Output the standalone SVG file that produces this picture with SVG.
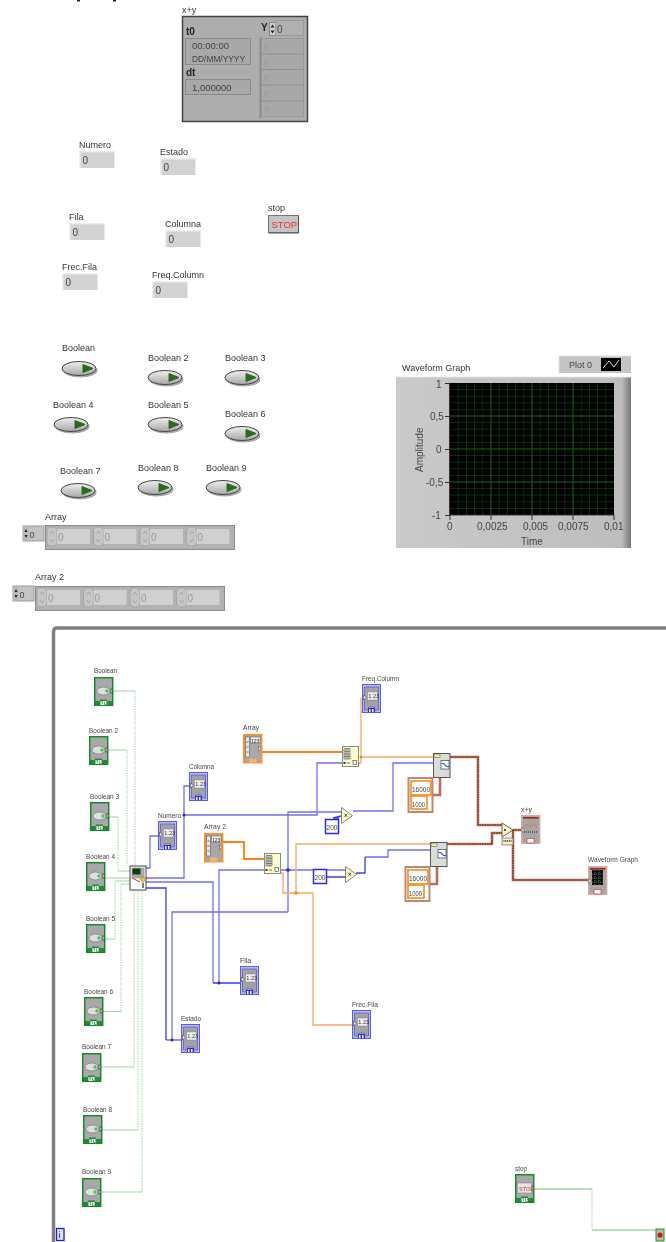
<svg xmlns="http://www.w3.org/2000/svg" xmlns:xlink="http://www.w3.org/1999/xlink" width="666" height="1242" viewBox="0 0 666 1242">
<style>
text{font-family:"Liberation Sans",Arial,sans-serif;fill:#333}
.l{font-size:9px}
.b{font-size:8px;fill:#444}
.n{font-size:9px;fill:#444}
.g{font-size:9px;fill:#999}
.t{font-size:10px;font-weight:bold;fill:#222}
.w{fill:none;stroke-linejoin:miter}
.gs{stroke:#a2d6a6;stroke-width:1.100}
.gd{stroke:#a8dcae;stroke-width:1.100;stroke-dasharray:1.500 1}
.bl{stroke:#7070f2;stroke-width:1.300}
.bd{stroke:#3c3ce8;stroke-width:1.300}
.ol{stroke:#f6aa5c;stroke-width:1.300}
.ot{stroke:#fb8414;stroke-width:1.900}
.br{stroke:#b5705a;stroke-width:2.600}
.bk{stroke:#7c1c10;stroke-width:1.100;stroke-dasharray:1.500 1}
.dotb{fill:#2222e0}.doto{fill:#f98a20}
.cst{fill:#fff;stroke:#fb8a1c;stroke-width:1.600}
.cbl{fill:#fff;stroke:#2a2ae6;stroke-width:1.500}
</style>
<defs>
<filter id="soft" x="0" y="0" width="100%" height="100%"><feGaussianBlur stdDeviation="0.35"/></filter>
<linearGradient id="ledfill" x1="0" y1="0" x2="0" y2="1"><stop offset="0" stop-color="#efefef"/><stop offset="1" stop-color="#a8a8a8"/></linearGradient>
<linearGradient id="pl" x1="0" y1="0" x2="1" y2="0"><stop offset="0" stop-color="#cacaca"/><stop offset=".96" stop-color="#bdbdbd"/><stop offset="1" stop-color="#777"/></linearGradient>
<symbol id="led" width="40" height="20" viewBox="0 0 40 20" overflow="visible">
<ellipse cx="18.500" cy="9.500" rx="17" ry="7" fill="#a8a8a8"/>
<ellipse cx="17" cy="7.500" rx="17" ry="7" fill="url(#ledfill)" stroke="#444" stroke-width="1"/>
<path d="M21 3.500L31 7.500L21 11.500Z" fill="#2c6b1a" stroke="#2c6b1a" stroke-linejoin="round"/>
</symbol>
<symbol id="num" width="38" height="18" viewBox="0 0 38 18" overflow="visible">
<path d="M0 18V0H37L34.500 2.500H2V16Z" fill="#eeeeee"/>
<rect x="1.500" y="1.500" width="34" height="15.500" fill="#d2d2d2"/>
<text x="3.500" y="13" class="n" style="font-size:10px">0</text>
</symbol>
<symbol id="cell" width="46" height="20" viewBox="0 0 46 20" overflow="visible">
<rect x="0" y="0" width="10" height="19" rx="4" fill="#c6c6c6" stroke="#a0a0a0" stroke-width=".8"/>
<path d="M3 7L5 4L7 7M3 12L5 15L7 12" fill="none" stroke="#9a9a9a" stroke-width=".7"/>
<rect x="10" y="2" width="33" height="15" fill="#d0d0d0"/>
<text x="11" y="13.500" class="g" style="font-size:10px">0</text>
</symbol>
<symbol id="tb" width="20" height="30" viewBox="0 0 20 30" overflow="visible">
<rect x=".7" y=".7" width="18" height="27.600" fill="#a8a8a8" stroke="#15882a" stroke-width="1.500"/>
<ellipse cx="9.500" cy="14" rx="6.500" ry="4" fill="#dedede" stroke="#777" stroke-width=".7"/>
<circle cx="13" cy="14" r="1.800" fill="#3bd04a"/>
<path d="M17 11.500L19 14L17 16.500Z" fill="#fff" stroke="#222" stroke-width=".6"/>
<path d="M.7 24H6V22.500H13V24H18.500V28.500H.7Z" fill="#15882a" opacity=".9"/>
<rect x="6.500" y="24" width="6" height="4" fill="#fff"/><path d="M7.500 24.500H9M8.300 24.500V27.500M10.500 24.500V27.500H12" stroke="#15882a" stroke-width=".7" fill="none"/>
</symbol>
<symbol id="ti" width="20" height="30" viewBox="0 0 20 30" overflow="visible">
<rect x=".5" y=".5" width="18" height="28" fill="#b6b6f4" stroke="#5a5af0" stroke-width="1"/>
<path d="M2.500 3H16.500V26H12.500V23H6.500V26H2.500Z" fill="#a2a2a2" stroke="#3232b0" stroke-width=".5"/>
<rect x="5.500" y="8" width="10" height="8" fill="#eeeeee" stroke="#777" stroke-width=".4"/>
<text x="6.300" y="14" style="font-size:5.500px;fill:#333">1.23</text>
<path d="M1.500 11L4 13.500L1.500 16Z" fill="#fff" stroke="#333" stroke-width=".5"/>
<rect x="6" y="24" width="7" height="4" fill="#2a2ae6"/><rect x="7" y="25" width="1.500" height="3" fill="#fff"/><rect x="10" y="25" width="1.500" height="3" fill="#fff"/>
</symbol>
<symbol id="tg" width="20" height="30" viewBox="0 0 20 30" overflow="visible">
<rect x=".7" y=".7" width="18" height="27.600" fill="#a6a6a6" stroke="#dfa898" stroke-width="1.400"/>
<rect x="2" y="2" width="15.500" height="1.600" fill="#8f2a1e"/>
<rect x="6" y="23.500" width="7" height="4.500" fill="#fff" stroke="#c84030" stroke-width=".7"/>
<path d="M1 12.500L3.500 15L1 17.500Z" fill="#fff" stroke="#333" stroke-width=".5"/>
</symbol>
<symbol id="ta" width="20" height="30" viewBox="0 0 20 30" overflow="visible">
<rect x=".8" y=".8" width="17.800" height="27.800" fill="#a8a8a8" stroke="#fb8f2c" stroke-width="1.700"/>
<rect x="2.500" y="3" width="4" height="20" fill="#e8e8e8" stroke="#444" stroke-width=".5"/>
<path d="M3.500 8H5.500M3.500 13H5.500M3.500 18H5.500" stroke="#444" stroke-width=".8"/>
<rect x="7.500" y="3" width="9.500" height="6.500" fill="#eeeeee" stroke="#444" stroke-width=".4"/>
<text x="8" y="8.500" style="font-size:5px;fill:#222">123</text>
<path d="M15.500 12L17.800 14.500L15.500 17Z" fill="#fff" stroke="#333" stroke-width=".5"/>
<rect x="6" y="24.500" width="7.500" height="4" fill="#f6b070"/>
</symbol>
<symbol id="mul" width="12" height="17" viewBox="0 0 12 17" overflow="visible">
<path d="M.5 .5L11.500 8.500L.5 16.500Z" fill="#f8f6c4" stroke="#777" stroke-width=".9"/>
<path d="M3.500 6.800L6 9.800M6 6.800L3.500 9.800" stroke="#222" stroke-width=".8"/>
</symbol>
<symbol id="ixa" width="17" height="21" viewBox="0 0 17 21" overflow="visible">
<rect x=".5" y=".5" width="16" height="20" fill="#fdfbd0" stroke="#8c8c80" stroke-width="1"/>
<path d="M2 2.500H8V13H2ZM2 5.200H8M2 8H8M2 10.500H8M4 2.500V13M6 2.500V13" fill="#e8e8e0" stroke="#333" stroke-width=".5"/>
<rect x="1.500" y="16" width="2" height="2" fill="#333"/><rect x="11" y="14.500" width="3.500" height="4" fill="#fff" stroke="#333" stroke-width=".6"/><path d="M5 17H8" stroke="#333" stroke-width=".7"/>
</symbol>
<symbol id="rsv" width="18" height="25" viewBox="0 0 18 25" overflow="visible">
<rect x=".5" y=".5" width="16.500" height="24" fill="#dcdcdc" stroke="#555" stroke-width="1"/>
<rect x="1" y="1" width="6" height="3.500" fill="#e8e8a0" stroke="#555" stroke-width=".5"/>
<rect x="8" y="7.500" width="8" height="8.500" fill="#fff" stroke="#444" stroke-width=".7"/>
<path d="M8.500 10.500Q11 10 12 12T16 13.500" fill="none" stroke="#2a5ad0" stroke-width="1.200"/>
</symbol>
</defs>
<g filter="url(#soft)">
<rect width="666" height="1242" fill="#fff"/>
<path d="M77 0h3v1.500h-3zM113 0h3v1.500h-3z" fill="#222"/>

<g id="panel-xy">
<text x="182" y="13" class="l">x+y</text>
<rect x="182.500" y="16.500" width="125" height="105" fill="#adadad" stroke="#444" stroke-width="1.500"/>
<text x="186" y="35" class="t">t0</text>
<rect x="185.500" y="38.500" width="65" height="26" fill="#a8a8a8" stroke="#8a8a8a"/>
<text x="192" y="49" class="n" style="font-size:9.500px">00:00:00</text>
<text x="192" y="61.500" class="n" style="font-size:9.500px" textLength="53" lengthAdjust="spacingAndGlyphs">DD/MM/YYYY</text>
<text x="186" y="76" class="t">dt</text>
<rect x="185.500" y="79.500" width="65" height="15" fill="#a8a8a8" stroke="#8a8a8a"/>
<text x="192" y="91" class="n" style="font-size:9.500px">1,000000</text>
<text x="261" y="31" class="t">Y</text>
<rect x="269.500" y="22.500" width="6" height="13" fill="#d0d0d0" stroke="#888"/>
<path d="M270.500 27.500L272.500 24.500L274.500 27.500ZM270.500 30.500L272.500 33.500L274.500 30.500Z" fill="#222"/>
<rect x="275.500" y="20.500" width="28" height="15" fill="#b0b0b0" stroke="#999"/>
<text x="277" y="33" class="n" style="font-size:10px">0</text>
<path d="M260.500 37.500V118" stroke="#8a8a8a" stroke-width="2"/>
<rect x="261.500" y="38.500" width="42" height="78" fill="#a8a8a8" stroke="#999"/>
<path d="M261 54h42M261 69.500h42M261 85h42M261 101h42" stroke="#8e8e8e" fill="none"/>
<text x="264" y="50" class="g">0</text><text x="264" y="65.500" class="g">0</text><text x="264" y="81" class="g">0</text><text x="264" y="96.500" class="g">0</text><text x="264" y="112" class="g">0</text>
</g>

<g id="panel-numero"><text x="79" y="148" class="l">Numero</text><use xlink:href="#num" x="79" y="151"/></g>
<g id="panel-estado"><text x="160" y="155" class="l">Estado</text><use xlink:href="#num" x="160" y="158"/></g>
<g id="panel-fila"><text x="69" y="220" class="l">Fila</text><use xlink:href="#num" x="69" y="223"/></g>
<g id="panel-columna"><text x="165" y="227" class="l">Columna</text><use xlink:href="#num" x="165" y="230"/></g>
<g id="panel-frecfila"><text x="62" y="270" class="l">Frec.Fila</text><use xlink:href="#num" x="62" y="273"/></g>
<g id="panel-freqcolumn"><text x="152" y="278" class="l">Freq.Column</text><use xlink:href="#num" x="152" y="281"/></g>
<g id="panel-stop"><text x="268" y="211" class="l">stop</text>
<rect x="268.500" y="215.500" width="30" height="17" fill="#c4c4c4" stroke="#777"/><path d="M298.500 216v17h-30" fill="none" stroke="#555"/>
<text x="271.500" y="228" style="font-size:9.500px;fill:#ff2a2a">STOP</text></g>

<g id="panel-boolean"><text x="62" y="351" class="l">Boolean</text><use xlink:href="#led" x="62" y="361"/></g>
<g id="panel-boolean2"><text x="148" y="361" class="l">Boolean 2</text><use xlink:href="#led" x="148" y="370"/></g>
<g id="panel-boolean3"><text x="225" y="361" class="l">Boolean 3</text><use xlink:href="#led" x="225" y="370"/></g>
<g id="panel-boolean4"><text x="53" y="408" class="l">Boolean 4</text><use xlink:href="#led" x="54" y="417"/></g>
<g id="panel-boolean5"><text x="148" y="408" class="l">Boolean 5</text><use xlink:href="#led" x="148" y="417"/></g>
<g id="panel-boolean6"><text x="225" y="417" class="l">Boolean 6</text><use xlink:href="#led" x="225" y="426"/></g>
<g id="panel-boolean7"><text x="60" y="474" class="l">Boolean 7</text><use xlink:href="#led" x="61" y="483"/></g>
<g id="panel-boolean8"><text x="138" y="471" class="l">Boolean 8</text><use xlink:href="#led" x="138" y="480"/></g>
<g id="panel-boolean9"><text x="206" y="471" class="l">Boolean 9</text><use xlink:href="#led" x="206" y="480"/></g>

<g id="panel-array">
<text x="45" y="520" class="l">Array</text>
<rect x="23" y="526" width="21" height="15" fill="#c4c4c4" stroke="#999"/>
<rect x="23" y="526" width="6" height="15" fill="#b8b8b8"/><path d="M24.500 532L26 529L27.500 532ZM24.500 535L26 538L27.500 535Z" fill="#222"/>
<text x="29.500" y="538" class="n">0</text>
<rect x="45.500" y="525.500" width="189" height="24" fill="#b2b2b2" stroke="#8a8a8a"/>
<use xlink:href="#cell" x="47" y="527"/><use xlink:href="#cell" x="93.500" y="527"/><use xlink:href="#cell" x="140" y="527"/><use xlink:href="#cell" x="186.500" y="527"/>
</g>
<g id="panel-array2">
<text x="35" y="580" class="l">Array 2</text>
<rect x="13" y="586" width="21" height="15" fill="#c4c4c4" stroke="#999"/>
<rect x="13" y="586" width="6" height="15" fill="#b8b8b8"/><path d="M14.500 592L16 589L17.500 592ZM14.500 595L16 598L17.500 595Z" fill="#222"/>
<text x="19.500" y="598" class="n">0</text>
<rect x="35.500" y="586.500" width="189" height="24" fill="#b2b2b2" stroke="#8a8a8a"/>
<use xlink:href="#cell" x="37" y="588"/><use xlink:href="#cell" x="83.500" y="588"/><use xlink:href="#cell" x="130" y="588"/><use xlink:href="#cell" x="176.500" y="588"/>
</g>

<g id="panel-waveform">
<text x="402" y="371" class="l">Waveform Graph</text>
<rect x="559" y="356" width="72" height="17" fill="#c4c4c4"/><path d="M559 373V356H631" stroke="#e2e2e2" fill="none"/>
<text x="569" y="368" class="n">Plot 0</text>
<rect x="601" y="358" width="20" height="13" fill="#000"/>
<path d="M603 368L609 361L614 367L619 360" stroke="#ddd" fill="none"/>
<rect x="396" y="377" width="235" height="171" fill="url(#pl)"/>
<path d="M396 377H631" stroke="#e6e6e6"/>
<rect x="450" y="383" width="164" height="132" fill="#000"/>
<path d="M458.200 383V515M466.400 383V515M474.600 383V515M482.800 383V515M499.200 383V515M507.400 383V515M515.600 383V515M523.800 383V515M540.200 383V515M548.400 383V515M556.600 383V515M564.800 383V515M581.200 383V515M589.400 383V515M597.600 383V515M605.800 383V515M450 389.600H614M450 396.200H614M450 402.800H614M450 409.400H614M450 422.600H614M450 429.200H614M450 435.800H614M450 442.400H614M450 455.600H614M450 462.200H614M450 468.800H614M450 475.400H614M450 488.600H614M450 495.200H614M450 501.800H614M450 508.400H614" stroke="#0b3d12" stroke-width=".8" fill="none"/>
<path d="M491 383V515M532 383V515M573 383V515M450 416H614M450 449H614M450 482H614" stroke="#14661f" stroke-width="1" fill="none"/>
<path d="M449.500 383V515H614M445 383.500H450M445 416.500H450M445 449.500H450M445 482.500H450M445 515.500H450M450 515V520M491 515V520M532 515V520M573 515V520M614 515V520" stroke="#333" fill="none"/>
<text x="436" y="388" class="n" style="font-size:10px">1</text>
<text x="430" y="420" class="n" style="font-size:10px">0,5</text>
<text x="436" y="453" class="n" style="font-size:10px">0</text>
<text x="426" y="486" class="n" style="font-size:10px">-0,5</text>
<text x="432" y="519" class="n" style="font-size:10px">-1</text>
<text x="447" y="530" class="n" style="font-size:10px">0</text>
<text x="477" y="530" class="n" style="font-size:10px">0,0025</text>
<text x="523" y="530" class="n" style="font-size:10px">0,005</text>
<text x="558" y="530" class="n" style="font-size:10px">0,0075</text>
<text x="604" y="530" class="n" style="font-size:10px">0,01</text>
<text x="521" y="545" class="n" style="font-size:10px">Time</text>
<text transform="translate(423,472) rotate(-90)" class="n" style="font-size:10px">Amplitude</text>
</g>

<path id="loop-frame" d="M53.500 1242V632Q53.500 628 57 628H666" fill="none" stroke="#808080" stroke-width="3.500"/>

<g id="connectors">
<g class="w">
<path class="gs" d="M113 691H135M108 750H127M109 817H118M105 878H130M105 939H115M103 1011.500H121M101 1067H134M102 1130H138M101 1192H142M115 881H130M118 871H130M121 884H130"/>
<path class="gd" d="M135 691V866M127 750V866M118 817V871M115 939V881M121 1011V884M134 1067V890M138 1130V890M142 1192V890"/>
<path class="gs" d="M534 1189H592M592 1230H656" style="stroke-width:1.300"/><path class="gd" d="M592 1189V1230"/>

<path class="bl" d="M146 868H150V836H158M146 878H184V786H189M184 815H317V763H342M288 912V812H342M353 811H393V763H433"/>
<path class="bl" d="M146 882H213V983M172 1040V912H288M219 983V870H313M327 870H345M166 1040H181M365 857H388V850H430"/>
<path class="bd" d="M146 888H166V1040M213 983H241M327 877H345M356 873H365V857M339 818H333L341 816M219 983H213"/>

<path class="ot" d="M262 752H342M223 842H244V859H264"/>
<path class="ol" d="M358 763H361V698M361 757H433M280 873H283V893H313V1025H352M296 893V844H430"/>

<g>
<path class="br" d="M450 757H478V825H502M447 844H492V833H502M513 830H521M513 830V880H588"/>
<path class="bk" d="M450 757H478V825H502M447 844H492V833H502M513 830H521M513 830V880H588"/>
<path class="br" d="M433 795H440V777M430 884H437V866"/>
</g>
</g>
<circle cx="184" cy="815" r="1.500" class="dotb"/>
<circle cx="288" cy="870" r="1.800" class="dotb"/>
<circle cx="219" cy="983" r="1.500" class="dotb"/>
<circle cx="172" cy="1040" r="1.500" class="dotb"/>
<circle cx="361" cy="757" r="1.500" class="doto"/>
<circle cx="296" cy="893" r="1.800" class="doto"/>
</g>

<g id="t-boolean"><text x="94" y="673" class="b" textLength="23" lengthAdjust="spacingAndGlyphs">Boolean</text><use xlink:href="#tb" x="94" y="677"/></g>
<g id="t-boolean2"><text x="89" y="733" class="b" textLength="29" lengthAdjust="spacingAndGlyphs">Boolean 2</text><use xlink:href="#tb" x="89" y="736"/></g>
<g id="t-boolean3"><text x="90" y="799" class="b" textLength="29" lengthAdjust="spacingAndGlyphs">Boolean 3</text><use xlink:href="#tb" x="90" y="802"/></g>
<g id="t-boolean4"><text x="86" y="859" class="b" textLength="29" lengthAdjust="spacingAndGlyphs">Boolean 4</text><use xlink:href="#tb" x="86" y="862"/></g>
<g id="t-boolean5"><text x="86" y="921" class="b" textLength="29" lengthAdjust="spacingAndGlyphs">Boolean 5</text><use xlink:href="#tb" x="86" y="924"/></g>
<g id="t-boolean6"><text x="84" y="994" class="b" textLength="29" lengthAdjust="spacingAndGlyphs">Boolean 6</text><use xlink:href="#tb" x="84" y="997"/></g>
<g id="t-boolean7"><text x="82" y="1049" class="b" textLength="29" lengthAdjust="spacingAndGlyphs">Boolean 7</text><use xlink:href="#tb" x="82" y="1053"/></g>
<g id="t-boolean8"><text x="83" y="1112" class="b" textLength="29" lengthAdjust="spacingAndGlyphs">Boolean 8</text><use xlink:href="#tb" x="83" y="1115"/></g>
<g id="t-boolean9"><text x="82" y="1174" class="b" textLength="29" lengthAdjust="spacingAndGlyphs">Boolean 9</text><use xlink:href="#tb" x="82" y="1178"/></g>

<g id="subvi">
<rect x="130" y="866" width="16" height="24" fill="#fff" stroke="#444" stroke-width="1"/>
<rect x="131.500" y="867.500" width="13" height="11" fill="#a8a8a8"/>
<rect x="132.500" y="868.500" width="8" height="6" fill="#0c3d14"/>
<path d="M132 878L140 882" stroke="#d03020" stroke-width="1"/>
<path d="M143 876.500L146 879.500L143 882.500L140 879.500Z" fill="#f5c518" stroke="#444" stroke-width=".4"/>
<path d="M143 883V888" stroke="#222" stroke-width="1.200"/>
</g>

<g id="t-numero"><text x="158" y="818" class="b" textLength="23" lengthAdjust="spacingAndGlyphs">Numero</text><use xlink:href="#ti" x="158" y="821"/></g>
<g id="t-columna"><text x="189" y="769" class="b" textLength="25" lengthAdjust="spacingAndGlyphs">Columna</text><use xlink:href="#ti" x="189" y="772"/></g>
<g id="t-fila"><text x="240" y="963" class="b" textLength="11" lengthAdjust="spacingAndGlyphs">Fila</text><use xlink:href="#ti" x="240" y="966"/></g>
<g id="t-estado"><text x="181" y="1021" class="b" textLength="20" lengthAdjust="spacingAndGlyphs">Estado</text><use xlink:href="#ti" x="181" y="1024"/></g>
<g id="t-frecfila"><text x="352" y="1007" class="b" textLength="26" lengthAdjust="spacingAndGlyphs">Frec.Fila</text><use xlink:href="#ti" x="352" y="1010"/></g>
<g id="t-freqcolumn"><text x="362" y="681" class="b" textLength="37" lengthAdjust="spacingAndGlyphs">Freq.Column</text><use xlink:href="#ti" x="362" y="684"/></g>
<g id="t-array"><text x="243" y="730" class="b" textLength="16" lengthAdjust="spacingAndGlyphs">Array</text><use xlink:href="#ta" x="243" y="734"/></g>
<g id="t-array2"><text x="204" y="829" class="b" textLength="22" lengthAdjust="spacingAndGlyphs">Array 2</text><use xlink:href="#ta" x="204" y="833"/></g>

<g id="index-1"><use xlink:href="#ixa" x="342" y="746"/></g>
<g id="index-2"><use xlink:href="#ixa" x="264" y="853"/></g>
<g id="mul-1"><use xlink:href="#mul" x="341" y="807"/></g>
<g id="mul-2"><use xlink:href="#mul" x="345" y="866"/></g>
<g id="const-200a"><rect x="325.500" y="819.500" width="13" height="14" class="cbl"/><text x="326.500" y="830" class="b" textLength="11" lengthAdjust="spacingAndGlyphs">200</text></g>
<g id="const-200b"><rect x="313.500" y="869.500" width="13" height="14" class="cbl"/><text x="314.500" y="880" class="b" textLength="11" lengthAdjust="spacingAndGlyphs">200</text></g>
<g id="resample-1"><use xlink:href="#rsv" x="433" y="753"/></g>
<g id="resample-2"><use xlink:href="#rsv" x="430" y="842"/></g>
<g id="cluster-1">
<rect x="408.500" y="778" width="24" height="34" fill="#fff" stroke="#c08870" stroke-width="2"/>
<rect x="411" y="781" width="20" height="14" class="cst"/><text x="412" y="792" class="b" textLength="18" lengthAdjust="spacingAndGlyphs">16000</text>
<rect x="411" y="796" width="16" height="13" class="cst"/><text x="412" y="806.500" class="b" textLength="13" lengthAdjust="spacingAndGlyphs">1000</text>
</g>
<g id="cluster-2">
<rect x="405.500" y="867" width="24" height="34" fill="#fff" stroke="#c08870" stroke-width="2"/>
<rect x="408" y="870" width="20" height="14" class="cst"/><text x="409" y="881" class="b" textLength="18" lengthAdjust="spacingAndGlyphs">16000</text>
<rect x="408" y="885" width="16" height="13" class="cst"/><text x="409" y="895.500" class="b" textLength="13" lengthAdjust="spacingAndGlyphs">1000</text>
</g>
<g id="add">
<path d="M502 823L513 830L502 837Z" fill="#f8f6c4" stroke="#555" stroke-width=".9"/>
<circle cx="505" cy="830" r="1" fill="#222"/>
<rect x="502" y="838" width="11" height="7" fill="#f2efc0" stroke="#777" stroke-width=".8"/>
<path d="M503.500 841H511.500" stroke="#555" stroke-dasharray="1 .8" stroke-width="2"/>
</g>
<g id="t-xy"><text x="521" y="812" class="b" textLength="11" lengthAdjust="spacingAndGlyphs">x+y</text><use xlink:href="#tg" x="521" y="815"/>
<path d="M524 828L527 824L530 827L533 823L537 828" stroke="#d08030" fill="none" stroke-width=".8"/><path d="M524 832H537" stroke="#222" stroke-dasharray="1 1"/></g>
<g id="t-waveform"><text x="588" y="862" class="b" textLength="50" lengthAdjust="spacingAndGlyphs">Waveform Graph</text><use xlink:href="#tg" x="588" y="866"/>
<rect x="592" y="870" width="11" height="15" fill="#111"/><path d="M592 874H603M592 878H603M592 882H603M595 870V885M599 870V885" stroke="#bbb" stroke-width=".5" stroke-dasharray="1 1"/></g>
<g id="t-stop"><text x="515" y="1171" class="b" textLength="12" lengthAdjust="spacingAndGlyphs">stop</text><use xlink:href="#tb" x="515" y="1174"/>
<rect x="517.500" y="1183" width="14" height="10" fill="#e6e6e6" stroke="#888" stroke-width=".6"/><text x="519" y="1190.500" style="font-size:5.500px;fill:#e02020">STOP</text></g>
<g id="cond"><rect x="656" y="1229" width="8" height="12" fill="#a6c8a0" stroke="#2d8a3a"/><circle cx="660" cy="1235" r="2.600" fill="#f01010"/></g>
<g id="iter"><rect x="56.500" y="1228.500" width="7.500" height="12" fill="#e0e4ff" stroke="#1a1ae0" stroke-width="1.300"/><text x="58.500" y="1238" style="font-size:9px;fill:#222">i</text></g>
</g>
</svg>
